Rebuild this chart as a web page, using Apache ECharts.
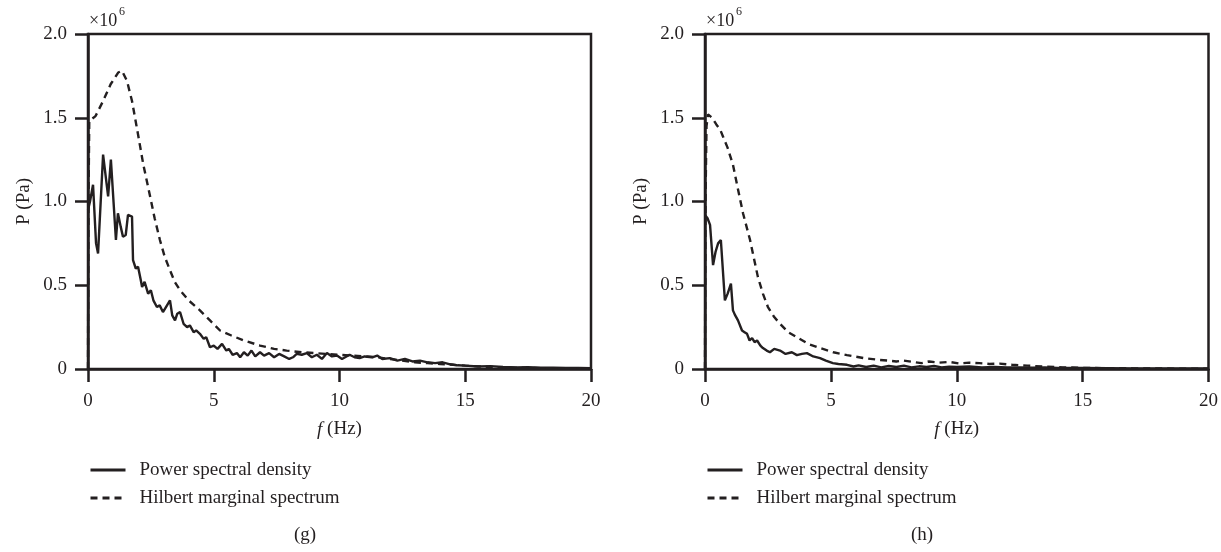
<!DOCTYPE html>
<html>
<head>
<meta charset="utf-8">
<script src="https://cdn.jsdelivr.net/npm/echarts@6/dist/echarts.min.js"></script>
<style>
  html, body { margin: 0; padding: 0; background: #fff; }
  #chart { width: 1221px; height: 552px; }
</style>
</head>
<body>
<div id="chart"></div>
<script>
// values are in units of 10^6 Pa, frequency in Hz
const psdG = [
  [0, 0.95], [0.08, 1.0], [0.2, 1.1], [0.32, 0.75], [0.4, 0.69], [0.6, 1.28], [0.8, 1.03],
  [0.91, 1.25], [1.11, 0.77], [1.19, 0.93], [1.3, 0.85], [1.39, 0.79], [1.5, 0.8], [1.59, 0.92],
  [1.75, 0.91], [1.79, 0.65], [1.9, 0.6], [1.99, 0.61], [2.1, 0.53], [2.15, 0.49], [2.25, 0.52],
  [2.39, 0.45], [2.5, 0.47], [2.6, 0.41], [2.74, 0.37], [2.85, 0.38], [2.98, 0.34], [3.1, 0.37],
  [3.26, 0.41], [3.35, 0.32], [3.46, 0.29], [3.55, 0.33], [3.66, 0.34], [3.8, 0.27], [3.94, 0.25],
  [4.05, 0.26], [4.2, 0.22], [4.3, 0.23], [4.45, 0.21], [4.6, 0.18], [4.7, 0.19], [4.85, 0.13],
  [5.0, 0.14], [5.15, 0.12], [5.33, 0.15], [5.5, 0.11], [5.6, 0.12], [5.75, 0.085], [5.92, 0.095],
  [6.05, 0.07], [6.2, 0.1], [6.35, 0.08], [6.5, 0.11], [6.65, 0.075], [6.84, 0.1], [7.0, 0.08],
  [7.2, 0.095], [7.4, 0.07], [7.6, 0.09], [7.8, 0.075], [8.0, 0.06], [8.15, 0.07], [8.3, 0.09],
  [8.5, 0.085], [8.7, 0.095], [8.9, 0.07], [9.1, 0.085], [9.3, 0.06], [9.5, 0.095], [9.7, 0.075],
  [9.9, 0.08], [10.1, 0.06], [10.4, 0.085], [10.6, 0.07], [10.8, 0.065], [11.0, 0.075], [11.3, 0.07],
  [11.5, 0.08], [11.7, 0.06], [12.0, 0.065], [12.3, 0.05], [12.6, 0.06], [12.9, 0.045], [13.2, 0.05],
  [13.5, 0.04], [13.8, 0.035], [14.1, 0.04], [14.4, 0.028], [14.7, 0.022], [15.0, 0.02], [15.5, 0.015],
  [16, 0.017], [16.5, 0.012], [17, 0.01], [17.5, 0.011], [18, 0.008], [18.5, 0.008], [19, 0.006],
  [19.5, 0.006], [20, 0.005]
];
const hmsG = [
  [0, 0], [0.02, 1.0], [0.05, 1.48], [0.3, 1.51], [0.6, 1.6], [0.9, 1.7], [1.2, 1.77], [1.35, 1.78],
  [1.55, 1.72], [1.75, 1.6], [1.87, 1.5], [1.99, 1.4], [2.2, 1.22], [2.47, 1.03], [2.65, 0.9],
  [2.86, 0.77], [3.05, 0.67], [3.26, 0.59], [3.45, 0.52], [3.66, 0.47], [4.0, 0.41], [4.45, 0.35],
  [4.85, 0.29], [5.25, 0.23], [5.7, 0.2], [6.2, 0.17], [6.84, 0.14], [7.4, 0.12], [7.9, 0.11],
  [8.5, 0.1], [9, 0.095], [9.5, 0.09], [10, 0.085], [10.5, 0.08], [11, 0.075], [11.5, 0.07],
  [12, 0.06], [12.5, 0.05], [13, 0.04], [13.5, 0.035], [14, 0.03], [14.5, 0.025], [15, 0.02],
  [16, 0.012], [17, 0.008], [18, 0.005], [19, 0.003], [20, 0.002]
];
const psdH = [
  [0, 0.92], [0.1, 0.9], [0.2, 0.86], [0.32, 0.62], [0.42, 0.7], [0.52, 0.75], [0.63, 0.77],
  [0.79, 0.41], [0.9, 0.45], [1.03, 0.51], [1.11, 0.35], [1.2, 0.32], [1.31, 0.29], [1.47, 0.23],
  [1.57, 0.22], [1.67, 0.21], [1.77, 0.17], [1.87, 0.185], [1.97, 0.16], [2.07, 0.17], [2.2, 0.14],
  [2.3, 0.125], [2.45, 0.11], [2.58, 0.1], [2.75, 0.12], [2.98, 0.11], [3.2, 0.09], [3.45, 0.1],
  [3.65, 0.083], [3.85, 0.09], [4.05, 0.095], [4.3, 0.075], [4.57, 0.065], [4.8, 0.05], [5.08, 0.035],
  [5.3, 0.03], [5.64, 0.025], [5.9, 0.015], [6.1, 0.022], [6.4, 0.012], [6.7, 0.02], [7.0, 0.01],
  [7.3, 0.018], [7.6, 0.012], [7.9, 0.02], [8.2, 0.01], [8.5, 0.016], [8.8, 0.012], [9.1, 0.018],
  [9.4, 0.01], [9.7, 0.014], [10.0, 0.012], [10.5, 0.015], [11, 0.01], [11.5, 0.012], [12, 0.009],
  [12.5, 0.01], [13, 0.008], [13.5, 0.009], [14, 0.007], [15, 0.006], [16, 0.005], [17, 0.004],
  [18, 0.004], [19, 0.003], [20, 0.003]
];
const hmsH = [
  [0, 0], [0.02, 1.0], [0.06, 1.45], [0.12, 1.52], [0.28, 1.5], [0.45, 1.46], [0.6, 1.43],
  [0.71, 1.39], [0.9, 1.32], [1.11, 1.22], [1.3, 1.08], [1.51, 0.93], [1.79, 0.77], [2.1, 0.55],
  [2.3, 0.45], [2.5, 0.37], [2.75, 0.31], [2.98, 0.27], [3.3, 0.22], [3.65, 0.19], [4.1, 0.15],
  [4.57, 0.125], [5.1, 0.1], [5.64, 0.083], [6.3, 0.065], [6.95, 0.054], [7.3, 0.05], [7.6, 0.045],
  [7.9, 0.05], [8.26, 0.042], [8.6, 0.035], [8.9, 0.045], [9.3, 0.038], [9.7, 0.042], [10.1, 0.033],
  [10.5, 0.038], [10.9, 0.035], [11.3, 0.03], [11.7, 0.032], [12.2, 0.025], [12.8, 0.02],
  [13.5, 0.014], [14.2, 0.01], [15, 0.007], [16, 0.005], [17, 0.004], [18, 0.003], [19, 0.002], [20, 0.002]
];
const xTicks = [0, 5, 10, 15, 20];
const seriesNames = ['Power spectral density', 'Hilbert marginal spectrum'];
const panelLabels = ['(g)', '(h)'];

const ink = '#231f20';
const serif = 'Liberation Serif';
const fs = 19;

function xAxisFor(gridIndex) {
  return {
    type: 'value', gridIndex: gridIndex, min: xTicks[0], max: xTicks[xTicks.length - 1], interval: 5,
    name: '{i|f}{n| (Hz)}', nameLocation: 'middle', nameGap: 51,
    nameTextStyle: {
      rich: {
        i: { fontFamily: serif, fontSize: fs, fontStyle: 'italic', color: ink },
        n: { fontFamily: serif, fontSize: fs, color: ink }
      }
    },
    axisLine: { onZero: false, lineStyle: { color: ink, width: 2.5 } },
    axisTick: { length: 13, lineStyle: { color: ink, width: 2.5 } },
    axisLabel: { margin: 23, color: ink, fontFamily: serif, fontSize: fs },
    splitLine: { show: false }
  };
}
function yAxisFor(gridIndex) {
  return {
    type: 'value', gridIndex: gridIndex, min: 0, max: 2, interval: 0.5,
    name: 'P (Pa)', nameLocation: 'middle', nameGap: 54, nameRotate: 90,
    nameTextStyle: { fontFamily: serif, fontSize: fs, color: ink },
    axisLine: { lineStyle: { color: ink, width: 2.5 } },
    axisTick: { length: 13, lineStyle: { color: ink, width: 2.5 } },
    axisLabel: {
      margin: 21, color: ink, fontFamily: serif, fontSize: fs,
      formatter: v => (v === 0 ? '0' : v.toFixed(1))
    },
    splitLine: { show: false }
  };
}
function lineSeries(name, data, idx, dashed) {
  return {
    name: name, type: 'line', data: data, xAxisIndex: idx, yAxisIndex: idx,
    showSymbol: false, symbol: 'none',
    lineStyle: { color: ink, width: 2.4, type: dashed ? [7, 5] : 'solid' },
    itemStyle: { color: ink },
    z: dashed ? 3 : 2
  };
}
function legendFor(left) {
  return {
    orient: 'vertical', left: left, top: 460, padding: 0, itemWidth: 35, itemHeight: 14, itemGap: 8,
    data: seriesNames, selectedMode: false,
    itemStyle: { opacity: 0 },
    lineStyle: { width: 3 },
    textStyle: { fontFamily: serif, fontSize: fs, color: ink, lineHeight: 20, padding: [0, 0, 0, 9] }
  };
}

const chart = echarts.init(document.getElementById('chart'));
chart.setOption({
  animation: false,
  backgroundColor: '#fff',
  grid: [
    { left: 88, top: 34, width: 503, height: 335, show: true, borderColor: ink, borderWidth: 2.5, backgroundColor: 'transparent' },
    { left: 705, top: 34, width: 503.5, height: 335, show: true, borderColor: ink, borderWidth: 2.5, backgroundColor: 'transparent' }
  ],
  xAxis: [xAxisFor(0), xAxisFor(1)],
  yAxis: [yAxisFor(0), yAxisFor(1)],
  legend: [legendFor(89), legendFor(706)],
  series: [
    lineSeries(seriesNames[0], psdG, 0, false),
    lineSeries(seriesNames[1], hmsG, 0, true),
    lineSeries(seriesNames[0], psdH, 1, false),
    lineSeries(seriesNames[1], hmsH, 1, true)
  ],
  graphic: [
    { type: 'text', left: 89, top: 12, style: { text: '×10', fontFamily: serif, fontSize: 18, fill: ink } },
    { type: 'text', left: 119, top: 6, style: { text: '6', fontFamily: serif, fontSize: 12, fill: ink } },
    { type: 'text', left: 706, top: 12, style: { text: '×10', fontFamily: serif, fontSize: 18, fill: ink } },
    { type: 'text', left: 736, top: 6, style: { text: '6', fontFamily: serif, fontSize: 12, fill: ink } },
    { type: 'text', x: 305, y: 535, style: { text: panelLabels[0], fontFamily: serif, fontSize: fs, fill: ink, align: 'center', verticalAlign: 'middle' } },
    { type: 'text', x: 922, y: 535, style: { text: panelLabels[1], fontFamily: serif, fontSize: fs, fill: ink, align: 'center', verticalAlign: 'middle' } }
  ]
});
</script>
</body>
</html>
